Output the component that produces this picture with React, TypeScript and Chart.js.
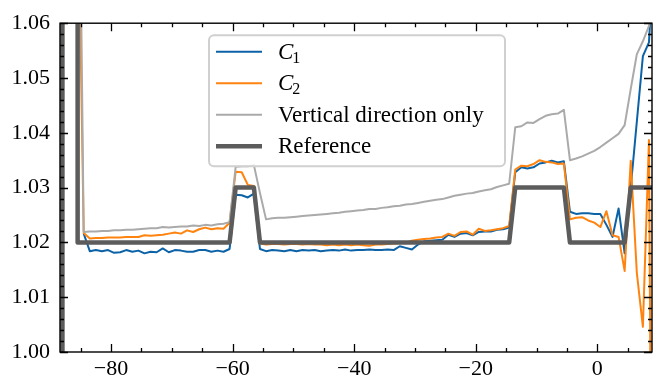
import React, { useEffect, useRef } from 'react';
import { Chart, registerables } from 'chart.js';

Chart.register(...registerables);

// ---- data ----
const xs = [
  -85.5, -84.5, -83.5, -82.5, -81.5, -80.5, -79.5, -78.5, -77.5, -76.5,
  -75.5, -74.5, -73.5, -72.5, -71.5, -70.5, -69.5, -68.5, -67.5, -66.5,
  -65.5, -64.5, -63.5, -62.5, -61.5, -60.5, -59.5, -58.5, -57.5, -56.5,
  -55.5, -54.5, -53.5, -52.5, -51.5, -50.5, -49.5, -48.5, -47.5, -46.5,
  -45.5, -44.5, -43.5, -42.5, -41.5, -40.5, -39.5, -38.5, -37.5, -36.5,
  -35.5, -34.5, -33.5, -32.5, -31.5, -30.5, -29.5, -28.5, -27.5, -26.5,
  -25.5, -24.5, -23.5, -22.5, -21.5, -20.5, -19.5, -18.5, -17.5, -16.5,
  -15.5, -14.5, -13.5, -12.5, -11.5, -10.5, -9.5, -8.5, -7.5, -6.5,
  -5.5, -4.5, -3.5, -2.5, -1.5, -0.5, 0.5, 1.5, 2.5, 3.5,
  4.5, 5.5, 6.5, 7.5, 8.5, 9.5,
];

const c1 = [
  null, 1.0216, 1.0184, 1.0186, 1.0184, 1.0186, 1.0181, 1.0182, 1.0186, 1.0183,
  1.0185, 1.0180, 1.0183, 1.0182, 1.0189, 1.0182, 1.0186, 1.0185, 1.0183, 1.0183,
  1.0186, 1.0186, 1.0183, 1.0185, 1.0183, 1.0188, 1.0287, 1.0286, 1.0282, 1.0289,
  1.0188, 1.0184, 1.0186, 1.0185, 1.0184, 1.0186, 1.0184, 1.0186, 1.0185, 1.0186,
  1.0184, 1.0185, 1.0186, 1.0185, 1.0187, 1.0185, 1.0186, 1.0186, 1.0187, 1.0186,
  1.0186, 1.0187, 1.0186, 1.0193, 1.0190, 1.0187, 1.0196, 1.0202, 1.0203, 1.0204,
  1.0205, 1.0214, 1.0210, 1.0216, 1.0217, 1.0213, 1.0219, 1.0220, 1.0220, 1.0223,
  1.0224, 1.0227, 1.0328, 1.0337, 1.0335, 1.0337, 1.0344, 1.0346, 1.0349, 1.0346,
  1.0348, 1.0256, 1.0252, 1.0253, 1.0253, 1.0252, 1.0252, 1.0232, 1.0210, 1.0262,
  1.0180, 1.0300, 1.0420, 1.0540, 1.0565, 1.0760,
];

const c2 = [
  1.0900, 1.0217, 1.0207, 1.0208, 1.0208, 1.0209, 1.0209, 1.0209, 1.0210, 1.0210,
  1.0210, 1.0213, 1.0212, 1.0213, 1.0214, 1.0216, 1.0218, 1.0216, 1.0222, 1.0219,
  1.0224, 1.0227, 1.0224, 1.0226, 1.0225, 1.0236, 1.0329, 1.0328, 1.0305, 1.0303,
  1.0198, 1.0196, 1.0197, 1.0197, 1.0196, 1.0197, 1.0197, 1.0196, 1.0197, 1.0196,
  1.0196, 1.0195, 1.0196, 1.0195, 1.0196, 1.0195, 1.0196, 1.0195, 1.0194, 1.0196,
  1.0196, 1.0197, 1.0198, 1.0199, 1.0200, 1.0203, 1.0205, 1.0206, 1.0207, 1.0209,
  1.0210, 1.0216, 1.0212, 1.0219, 1.0220, 1.0214, 1.0225, 1.0221, 1.0222, 1.0224,
  1.0226, 1.0230, 1.0333, 1.0340, 1.0339, 1.0343, 1.0350, 1.0347, 1.0346, 1.0343,
  1.0344, 1.0242, 1.0245, 1.0246, 1.0240, 1.0236, 1.0228, 1.0257, 1.0213, 1.0210,
  1.0148, 1.0349, 1.0145, 1.0046, 1.0387, 0.8600,
];

const verticalOnly = [
  1.1200, 1.0219, 1.0220, 1.0220, 1.0221, 1.0221, 1.0222, 1.0222, 1.0223, 1.0223,
  1.0224, 1.0225, 1.0226, 1.0226, 1.0228, 1.0227, 1.0228, 1.0229, 1.0229, 1.0231,
  1.0230, 1.0232, 1.0231, 1.0233, 1.0234, 1.0237, 1.0338, 1.0339, 1.0339, 1.0341,
  1.0290, 1.0242, 1.0244, 1.0245, 1.0245, 1.0246, 1.0247, 1.0248, 1.0249, 1.0250,
  1.0251, 1.0252, 1.0253, 1.0254, 1.0256, 1.0257, 1.0258, 1.0259, 1.0261, 1.0261,
  1.0263, 1.0264, 1.0266, 1.0267, 1.0269, 1.0270, 1.0272, 1.0274, 1.0276, 1.0278,
  1.0279, 1.0282, 1.0285, 1.0287, 1.0289, 1.0290, 1.0293, 1.0295, 1.0297, 1.0301,
  1.0304, 1.0307, 1.0410, 1.0412, 1.0419, 1.0418, 1.0425, 1.0431, 1.0434, 1.0435,
  1.0442, 1.0350, 1.0353, 1.0357, 1.0362, 1.0367, 1.0374, 1.0382, 1.0390, 1.0398,
  1.0414, 1.0480, 1.0543, 1.0567, 1.0595, 1.0640,
];

const refX = [-88, -88, -85.5, -85.5, -60.5, -59.5, -56.5, -55.5, -14.5, -13.5, -5.5, -4.5, 4.5, 5.5, 9.5];
const refY = [0.98, 1.10, 1.10, 1.02, 1.02, 1.03, 1.03, 1.02, 1.02, 1.03, 1.03, 1.02, 1.02, 1.03, 1.03];

const seriesLabels = ['𝒞₁', '𝒞₂', 'Vertical direction only', 'Reference'];

const xMajorTicks = [-80, -60, -40, -20, 0];
const xMinorTicks = [-85, -75, -70, -65, -55, -50, -45, -35, -30, -25, -15, -10, -5, 5];
const yMajorTicks = [1.0, 1.01, 1.02, 1.03, 1.04, 1.05, 1.06];
const yMinorTicks = [
  1.002, 1.004, 1.006, 1.008, 1.012, 1.014, 1.016, 1.018, 1.022, 1.024, 1.026, 1.028,
  1.032, 1.034, 1.036, 1.038, 1.042, 1.044, 1.046, 1.048, 1.052, 1.054, 1.056, 1.058,
];

const X_MIN = -88.4;
const X_MAX = 9.0;
const Y_MIN = 1.0;
const Y_MAX = 1.06;

// ---- styles ----
const COLORS = ['#0c62a6', '#ff830f', '#aaaaaa', '#5c5c5c'];
const WIDTHS = [2, 2, 2, 4.5];
const FONT = "'Liberation Serif', 'Times New Roman', serif";

const fmtX = (v: number) => (v < 0 ? '\u2212' + Math.abs(v) : String(v));

const framePlugin = {
  id: 'frameTicks',
  afterDatasetsDraw(chart: any) {
    const { ctx, chartArea: a, scales } = chart;
    const sx = scales.x;
    const sy = scales.y;
    ctx.save();
    ctx.strokeStyle = '#000';
    ctx.lineWidth = 1.3;
    ctx.beginPath();
    const xt = (vals: number[], len: number) => {
      vals.forEach((v) => {
        const p = Math.round(sx.getPixelForValue(v)) + 0.5;
        ctx.moveTo(p, a.bottom);
        ctx.lineTo(p, a.bottom - len);
        ctx.moveTo(p, a.top);
        ctx.lineTo(p, a.top + len);
      });
    };
    const yt = (vals: number[], len: number) => {
      vals.forEach((v) => {
        const p = Math.round(sy.getPixelForValue(v)) + 0.5;
        ctx.moveTo(a.left, p);
        ctx.lineTo(a.left + len, p);
        ctx.moveTo(a.right, p);
        ctx.lineTo(a.right - len, p);
      });
    };
    xt(xMajorTicks, 8);
    xt(xMinorTicks, 4);
    yt(yMajorTicks, 8);
    yt(yMinorTicks, 4);
    ctx.stroke();
    ctx.lineWidth = 1.4;
    ctx.strokeRect(a.left, a.top, a.right - a.left, a.bottom - a.top);
    ctx.restore();
  },
};

const legendPlugin = {
  id: 'innerLegend',
  afterDraw(chart: any) {
    const { ctx, chartArea: a } = chart;
    const left = a.left + 149;
    const top = a.top + 12;
    const w = 296;
    const h = 131;
    ctx.save();
    ctx.beginPath();
    ctx.roundRect(left, top, w, h, 5);
    ctx.fillStyle = 'rgba(255,255,255,0.8)';
    ctx.fill();
    ctx.lineWidth = 2;
    ctx.strokeStyle = '#d0d0d0';
    ctx.stroke();

    const ds = chart.data.datasets;
    ds.forEach((d: any, i: number) => {
      const yy = top + 16.5 + i * 31.5;
      ctx.beginPath();
      ctx.strokeStyle = d.borderColor;
      ctx.lineWidth = d.borderWidth;
      ctx.moveTo(left + 7, yy);
      ctx.lineTo(left + 53, yy);
      ctx.stroke();
      ctx.fillStyle = '#000';
      ctx.textBaseline = 'middle';
      ctx.textAlign = 'left';
      const tx = left + 69;
      const label: string = d.label;
      if (label.startsWith('𝒞')) {
        ctx.font = `italic 23px ${FONT}`;
        ctx.fillText('C', tx, yy + 1);
        const cw = ctx.measureText('C').width;
        const sub = label.endsWith('₁') ? '1' : '2';
        ctx.font = `16px ${FONT}`;
        ctx.fillText(sub, tx + cw - 1, yy + 7);
      } else {
        ctx.font = `23px ${FONT}`;
        ctx.fillText(label, tx, yy + 1);
      }
    });
    ctx.restore();
  },
};

export default function App() {
  const ref = useRef<HTMLCanvasElement | null>(null);

  useEffect(() => {
    if (!ref.current) return;
    const series = [c1, c2, verticalOnly];
    const datasets: any[] = series.map((vals, i) => ({
      label: seriesLabels[i],
      data: xs.map((x, j) => ({ x, y: vals[j] })),
      borderColor: COLORS[i],
      borderWidth: WIDTHS[i],
      order: 3 - i,
      clip: 0,
      pointRadius: 0,
      tension: 0,
      spanGaps: false,
      borderJoinStyle: 'round',
    }));
    datasets.push({
      label: seriesLabels[3],
      data: refX.map((x, j) => ({ x, y: refY[j] })),
      borderColor: COLORS[3],
      borderWidth: WIDTHS[3],
      order: 0,
      clip: 0,
      pointRadius: 0,
      tension: 0,
      borderJoinStyle: 'round',
    });

    const chart = new Chart(ref.current, {
      type: 'line',
      data: { datasets },
      plugins: [framePlugin, legendPlugin],
      options: {
        animation: false,
        responsive: false,
        devicePixelRatio: 1,
        layout: { padding: { top: 20, right: 3, left: 0, bottom: 0 } },
        plugins: { legend: { display: false }, tooltip: { enabled: false } },
        elements: { point: { radius: 0 } },
        scales: {
          x: {
            type: 'linear',
            min: X_MIN,
            max: X_MAX,
            grid: { display: false, drawTicks: false },
            border: { display: false },
            afterBuildTicks: (s: any) => {
              s.ticks = xMajorTicks.map((v) => ({ value: v }));
            },
            afterFit: (s: any) => {
              s.height = 27;
            },
            ticks: {
              padding: 4,
              autoSkip: false,
              maxRotation: 0,
              color: '#000',
              font: { family: FONT, size: 22, lineHeight: 1.2 },
              callback: (v: any) => fmtX(Number(v)),
            },
          },
          y: {
            type: 'linear',
            min: Y_MIN,
            max: Y_MAX,
            grid: { display: false, drawTicks: false },
            border: { display: false },
            afterBuildTicks: (s: any) => {
              s.ticks = yMajorTicks.map((v) => ({ value: v }));
            },
            afterFit: (s: any) => {
              s.width = 60;
            },
            ticks: {
              padding: 10,
              color: '#000',
              font: { family: FONT, size: 22 },
              callback: (v: any) => Number(v).toFixed(2),
            },
          },
        },
      } as any,
    });
    return () => chart.destroy();
  }, []);

  return (
    <div style={{ position: 'fixed', left: 0, top: 0, width: 655, height: 379, background: '#fff' }}>
      <canvas ref={ref} width={655} height={379} style={{ display: 'block', width: 655, height: 379 }} />
    </div>
  );
}
